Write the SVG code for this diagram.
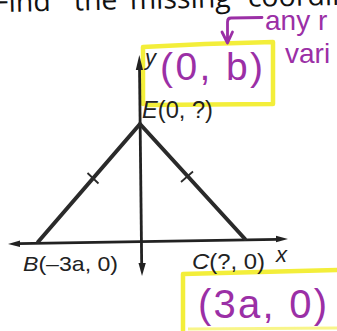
<svg xmlns="http://www.w3.org/2000/svg" width="337" height="331" viewBox="0 0 337 331">
<defs>
<style>
.title{font-family:"Open Sans","Liberation Sans",sans-serif;font-size:28.5px;fill:#111}
.lbl{font-family:"Liberation Sans",Arial,sans-serif;fill:#222}
.it{font-style:italic}
.hand{font-family:"Liberation Sans","DejaVu Sans",sans-serif;fill:#9b2fa6}
.hl{fill:none;stroke:#f3ee3a;stroke-width:4.5;stroke-linejoin:round;stroke-linecap:round}
.edge{fill:none;stroke:#2a2a2a;stroke-width:4;stroke-linecap:round}
.axis{fill:none;stroke:#222;stroke-width:2.8}
.tick{fill:none;stroke:#2a2a2a;stroke-width:1.8}
.mag{fill:none;stroke:#9b2fa6;stroke-width:2.8;stroke-linecap:round;stroke-linejoin:round}
</style>
</defs>
<rect width="337" height="331" fill="#fff"/>
<g id="title">
<text class="title" transform="rotate(-1.2 0 12)" y="12"><tspan x="-6">Find</tspan><tspan x="74">the</tspan><tspan x="130">missing</tspan><tspan x="248">coordinates</tspan></text>
</g>
<g id="highlights">
<path class="hl" d="M143,104 L143,47 L205,44 L273,42 L273,104 L147,105"/>
<path class="hl" d="M183,331 L183,274 L260,272 L340,270"/>
<path d="M188,329 L337,328" fill="none" stroke="#f3ee3a" stroke-width="3" opacity="0.6"/>
</g>
<g id="connectors">
<g id="y-axis">
<line class="axis" x1="139.5" y1="66" x2="141.7" y2="265"/>
<polygon points="139.3,55 135.8,70 143,70" fill="#222"/>
<polygon points="142,276 138.5,263 145.8,263" fill="#222"/>
</g>
<g id="x-axis">
<line class="axis" x1="18" y1="243.7" x2="278" y2="239.3"/>
<polygon points="8,244 20,240.5 20,247" fill="#222"/>
<polygon points="288,239 276,235.7 276,242.3" fill="#222"/>
</g>
<g id="triangle">
<line class="edge" x1="140" y1="124" x2="38" y2="242"/>
<line class="edge" x1="140" y1="124" x2="245" y2="239"/>
<line class="tick" x1="87.5" y1="173" x2="98.5" y2="183.5"/>
<line class="tick" x1="181" y1="182" x2="193" y2="171.5"/>
</g>
<path id="note-arrow" class="mag" d="M262,17.5 L231,18 Q227.5,18 227.5,22 L227.5,43 M222,32 L227.5,43 L232.5,32"/>
</g>
<g id="node-E">
<text class="lbl" x="142" y="118" font-size="23" textLength="71" lengthAdjust="spacingAndGlyphs"><tspan class="it">E</tspan>(0, ?)</text>
</g>
<g id="node-B">
<text class="lbl" x="23" y="271" font-size="21" textLength="95" lengthAdjust="spacingAndGlyphs"><tspan class="it">B</tspan>(–3a, 0)</text>
</g>
<g id="node-C">
<text class="lbl" x="192" y="269" font-size="22" textLength="73" lengthAdjust="spacingAndGlyphs"><tspan class="it">C</tspan>(?, 0)</text>
</g>
<g id="axis-labels">
<text class="lbl it" x="276" y="262" font-size="22">x</text>
<text class="lbl it" x="145" y="65" font-size="22">y</text>
</g>
<g id="note-E">
<text class="hand" x="160" y="80" font-size="39" textLength="103" lengthAdjust="spacing">(0, b)</text>
</g>
<g id="note-C">
<text class="hand" x="198" y="318" font-size="40" textLength="129" lengthAdjust="spacing">(3a, 0)</text>
</g>
<g id="note-text">
<text class="hand" x="265" y="30" font-size="28">any r</text>
<text class="hand" x="285" y="63" font-size="28">vari</text>
</g>
</svg>
